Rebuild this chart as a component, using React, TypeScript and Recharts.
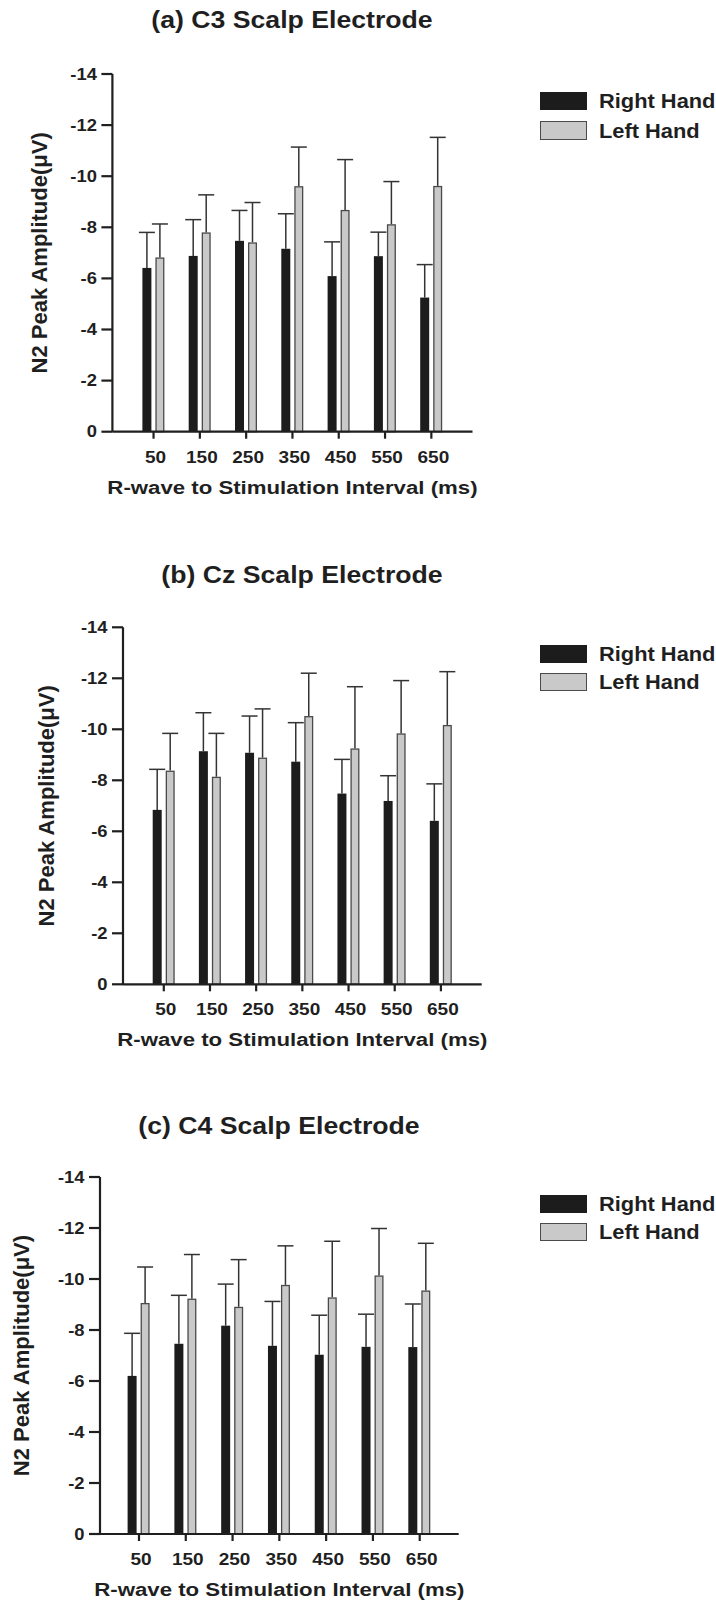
import React from 'react';
import { BarChart, Bar, XAxis, YAxis, Legend } from 'recharts';

const intervals = ['50', '150', '250', '350', '450', '550', '650'];
const yTicks = [-14, -12, -10, -8, -6, -4, -2, 0];
const seriesNames = ['Right Hand', 'Left Hand'];
const seriesKeys = ['right', 'left'];
const panelTitles = ['(a) C3 Scalp Electrode', '(b) Cz Scalp Electrode', '(c) C4 Scalp Electrode'];
const xAxisTitle = 'R-wave to Stimulation Interval (ms)';
const yAxisTitle = 'N2 Peak Amplitude(\u03bcV)';

// (a) C3
const c3Right = [-6.41, -6.88, -7.47, -7.16, -6.09, -6.87, -5.25];
const c3RightErr = [1.39, 1.42, 1.19, 1.37, 1.34, 0.94, 1.29];
const c3Left = [-6.82, -7.8, -7.41, -9.61, -8.68, -8.12, -9.62];
const c3LeftErr = [1.31, 1.47, 1.56, 1.53, 1.97, 1.67, 1.9];

// (b) Cz
const czRight = [-6.84, -9.14, -9.08, -8.73, -7.48, -7.19, -6.41];
const czRightErr = [1.59, 1.51, 1.44, 1.53, 1.34, 0.99, 1.45];
const czLeft = [-8.38, -8.14, -8.89, -10.52, -9.25, -9.84, -10.17];
const czLeftErr = [1.46, 1.7, 1.91, 1.68, 2.42, 2.07, 2.09];

// (c) C4
const c4Right = [-6.2, -7.46, -8.17, -7.38, -7.03, -7.34, -7.33];
const c4RightErr = [1.67, 1.9, 1.63, 1.74, 1.55, 1.28, 1.69];
const c4Left = [-9.06, -9.23, -8.91, -9.77, -9.28, -10.14, -9.55];
const c4LeftErr = [1.41, 1.73, 1.85, 1.53, 2.2, 1.84, 1.85];

const W = 716;
const FONT = '"Liberation Sans", Arial, Helvetica, sans-serif';
const INK = '#1f1f1f';
const ERR = '#333333';
const BLACK_FILL = '#1c1c1c';
const GRAY_FILL = '#c9c9c9';
const GRAY_STROKE = '#4a4a4a';

function buildRows(right: number[], rightErr: number[], left: number[], leftErr: number[]) {
  return intervals.map((interval, i) => ({
    interval,
    right: right[i],
    rightErr: rightErr[i],
    left: left[i],
    leftErr: leftErr[i],
  }));
}

const panelRows = [
  buildRows(c3Right, c3RightErr, c3Left, c3LeftErr),
  buildRows(czRight, czRightErr, czLeft, czLeftErr),
  buildRows(c4Right, c4RightErr, c4Left, c4LeftErr),
];

const layouts = [
  { chartTop: 0, chartHeight: 530, plotLeft: 112.4, plotTop: 74, plotRight: 472.5, plotBottom: 431.7, pad: 18, titleCapCy: 19.5, legendTop: 91.5, legendGap: 30, yLabelX: 39.5 },
  { chartTop: 530, chartHeight: 535, plotLeft: 123, plotTop: 627.3, plotRight: 481.7, plotBottom: 984.3, pad: 17.7, titleCapCy: 575, legendTop: 645, legendGap: 28, yLabelX: 46.5 },
  { chartTop: 1065, chartHeight: 537, plotLeft: 100, plotTop: 1177, plotRight: 458.7, plotBottom: 1534, pad: 15.6, titleCapCy: 1126, legendTop: 1195, legendGap: 28, yLabelX: 21.5 },
];

function makeShape(valueKey: string, errKey: string, fill: string, stroke: string | null, sw: number) {
  return (props: any) => {
    const { x, y, width, height, payload } = props;
    const top = Math.min(y, y + height);
    const h = Math.abs(height);
    const v = Math.abs(payload[valueKey]);
    const pxPerUnit = v > 0 ? h / v : 0;
    const errTop = top - payload[errKey] * pxPerUnit;
    const cx = x + width / 2;
    return (
      <g>
        <line x1={cx} x2={cx} y1={top} y2={errTop} stroke={ERR} strokeWidth={1.5} />
        <line x1={cx - 8} x2={cx + 8} y1={errTop} y2={errTop} stroke={ERR} strokeWidth={1.5} />
        {stroke ? (
          <rect x={x + sw / 2} y={top + sw / 2} width={width - sw} height={Math.max(0, h - sw / 2)} fill={fill} stroke={stroke} strokeWidth={sw} />
        ) : (
          <rect x={x} y={top} width={width} height={h} fill={fill} />
        )}
      </g>
    );
  };
}

const rightShape = makeShape('right', 'rightErr', BLACK_FILL, null, 0);
const leftShape = makeShape('left', 'leftErr', GRAY_FILL, GRAY_STROKE, 1.3);

// custom tick renderers (positions come from the axes)
const XTick = (props: any) => {
  const { x, y, payload } = props;
  const tx = x + 2;
  return (
    <text
      x={tx}
      y={y}
      dy="0.71em"
      textAnchor="middle"
      fontSize={17}
      fontWeight={700}
      fill={INK}
      fontFamily={FONT}
      transform={`translate(${tx} 0) scale(1.12 1) translate(${-tx} 0)`}
    >
      {payload.value}
    </text>
  );
};

const YTick = (props: any) => {
  const { x, y, payload } = props;
  return (
    <text
      x={x}
      y={y}
      dy="0.355em"
      textAnchor="end"
      fontSize={16}
      fontWeight={700}
      fill={INK}
      fontFamily={FONT}
      transform={`translate(${x} 0) scale(1.15 1) translate(${-x} 0)`}
    >
      {payload.value}
    </text>
  );
};

const swatchStyles: Record<string, any> = {
  right: { background: BLACK_FILL, border: `1.5px solid ${BLACK_FILL}` },
  left: { background: GRAY_FILL, border: `1.5px solid ${GRAY_STROKE}` },
};

const makeLegend = (gap: number) => (props: any) => {
  const payload = [...(props.payload || [])].sort(
    (a: any, b: any) => seriesKeys.indexOf(a.dataKey) - seriesKeys.indexOf(b.dataKey)
  );
  return (
    <div style={{ fontFamily: FONT }}>
      {payload.map((entry: any, i: number) => (
        <div key={i} style={{ display: 'flex', alignItems: 'center', height: 18.3, marginBottom: gap - 18.3 }}>
          <div style={{ width: 47, height: 18.3, boxSizing: 'border-box', ...swatchStyles[entry.dataKey] }} />
          <span
            style={{
              marginLeft: 12,
              fontSize: 21,
              fontWeight: 700,
              color: INK,
              lineHeight: '18px',
              whiteSpace: 'nowrap',
              display: 'inline-block',
              transform: 'scaleX(1.04)',
              transformOrigin: 'left center',
            }}
          >
            {entry.value}
          </span>
        </div>
      ))}
    </div>
  );
};

function Panel({ idx }: { idx: number }) {
  const L = layouts[idx];
  const yAxisWidth = 100;
  const xAxisHeight = 60;
  const margin = {
    top: L.plotTop - L.chartTop,
    left: L.plotLeft - yAxisWidth,
    right: W - L.plotRight,
    bottom: L.chartTop + L.chartHeight - L.plotBottom - xAxisHeight,
  };
  const plotCx = (L.plotLeft + L.plotRight) / 2;
  return (
    <div style={{ position: 'absolute', left: 0, top: L.chartTop, width: W, height: L.chartHeight }}>
      <BarChart width={W} height={L.chartHeight} data={panelRows[idx]} margin={margin} barSize={9} barGap={4}>
        <XAxis
          dataKey="interval"
          type="category"
          height={xAxisHeight}
          padding={{ left: L.pad, right: L.pad }}
          interval={0}
          tickSize={7}
          tickMargin={11.8}
          axisLine={{ stroke: INK, strokeWidth: 2.2 }}
          tickLine={{ stroke: INK, strokeWidth: 2.2 }}
          tick={XTick}
          label={{
            value: xAxisTitle,
            position: 'insideTop',
            offset: 48.7,
            style: {
              fontSize: 19,
              fontWeight: 700,
              fill: INK,
              fontFamily: FONT,
              transform: 'scaleX(1.17)',
              transformBox: 'fill-box',
              transformOrigin: 'center',
            },
          }}
        />
        <YAxis
          type="number"
          domain={[-14, 0]}
          ticks={yTicks}
          reversed
          interval={0}
          width={yAxisWidth}
          tickSize={11}
          tickMargin={4.5}
          axisLine={{ stroke: INK, strokeWidth: 2.2 }}
          tickLine={{ stroke: INK, strokeWidth: 2.2 }}
          tick={YTick}
          label={{
            value: yAxisTitle,
            angle: -90,
            position: 'insideLeft',
            offset: L.yLabelX - (L.plotLeft - yAxisWidth),
            style: { textAnchor: 'middle', fontSize: 22, fontWeight: 700, fill: INK, fontFamily: FONT },
          }}
        />
        <Legend
          layout="vertical"
          align="center"
          verticalAlign="middle"
          content={makeLegend(L.legendGap)}
          wrapperStyle={{ left: 540, top: L.legendTop - L.chartTop, width: 176 }}
        />
        <Bar dataKey="right" name={seriesNames[0]} fill={BLACK_FILL} shape={rightShape} isAnimationActive={false} />
        <Bar dataKey="left" name={seriesNames[1]} fill={GRAY_FILL} shape={leftShape} isAnimationActive={false} />
      </BarChart>
      <div
        style={{
          position: 'absolute',
          left: plotCx - 250,
          width: 500,
          top: L.titleCapCy - L.chartTop - 11.7,
          height: 24,
          lineHeight: '24px',
          textAlign: 'center',
          fontFamily: FONT,
          fontWeight: 700,
          fontSize: 24,
          color: INK,
          whiteSpace: 'nowrap',
          transform: 'scaleX(1.11)',
          transformOrigin: 'center',
        }}
      >
        {panelTitles[idx]}
      </div>
    </div>
  );
}

export default function App() {
  return (
    <div style={{ position: 'absolute', left: 0, top: 0, width: W, height: 1602, background: '#ffffff', overflow: 'hidden' }}>
      <Panel idx={0} />
      <Panel idx={1} />
      <Panel idx={2} />
    </div>
  );
}
